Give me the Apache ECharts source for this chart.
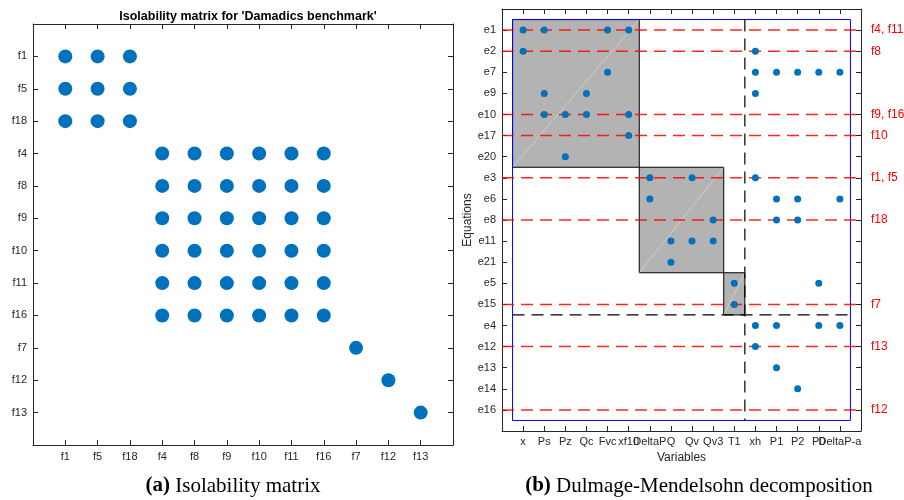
<!DOCTYPE html>
<html><head><meta charset="utf-8">
<script src="https://cdn.jsdelivr.net/npm/echarts@6/dist/echarts.min.js"></script>
<style>html,body{margin:0;padding:0;background:#fff}#c{width:904px;height:500px}</style>
</head><body><div id="c"></div>
<script>
// ---- data ----
const faults = ['f1','f5','f18','f4','f8','f9','f10','f11','f16','f7','f12','f13'];
const isoGroups = [['f1','f5','f18'],['f4','f8','f9','f10','f11','f16'],['f7'],['f12'],['f13']];
const variables = ['x','Ps','Pz','Qc','Fvc','xf10','DeltaP','Q','Qv','Qv3','T1','xh','P1','P2','P0','DeltaP-a'];
const equations = ['e1','e2','e7','e9','e10','e17','e20','e3','e6','e8','e11','e21','e5','e15','e4','e12','e13','e14','e16'];
const incidence = [
  ['x','Ps','Fvc','xf10'],
  ['x','xh'],
  ['Fvc','xh','P1','P2','P0','DeltaP-a'],
  ['Ps','Qc','xh'],
  ['Ps','Pz','Qc','xf10'],
  ['xf10'],
  ['Pz'],
  ['DeltaP','Qv','xh'],
  ['DeltaP','P1','P2','DeltaP-a'],
  ['Qv3','P1','P2'],
  ['Q','Qv','Qv3'],
  ['Q'],
  ['T1','P0'],
  ['T1'],
  ['xh','P1','P0','DeltaP-a'],
  ['xh'],
  ['P1'],
  ['P2'],
  []
];
const blockEqs = [['e1','e20'],['e3','e21'],['e5','e15']];
const blockVars = [['x','xf10'],['DeltaP','Qv3'],['T1','T1']];
const faultEqs = ['e1','e2','e10','e17','e3','e8','e15','e12','e16'];
const faultLabels = ['f4, f11','f8','f9, f16','f10','f1, f5','f18','f7','f13','f12'];

// ---- derived ----
const isoPoints = [];
isoGroups.forEach(g => g.forEach(a => g.forEach(b => isoPoints.push([faults.indexOf(b)+1, faults.indexOf(a)+1]))));
const dmPoints = [];
incidence.forEach((vs, i) => vs.forEach(v => dmPoints.push([variables.indexOf(v)+1, i+1])));
const blocks = blockEqs.map((be, k) => ({
  x0: variables.indexOf(blockVars[k][0]) + 0.5, x1: variables.indexOf(blockVars[k][1]) + 1.5,
  y0: equations.indexOf(be[0]) + 0.5, y1: equations.indexOf(be[1]) + 1.5
}));
const nV = variables.length, nE = equations.length, nF = faults.length;
const lastB = blocks[blocks.length-1];

const FG = '#262626';
const FONT = 'Liberation Sans';
function mkAxis(type, pos, max, names, showLabel, gridIndex, inverse) {
  return {
    type: 'value', gridIndex, position: pos, min: 0, max, interval: 1, inverse: !!inverse,
    axisLine: {show: true, onZero: false, lineStyle: {color: FG, width: 1}},
    axisTick: {show: true, inside: true, length: 5, lineStyle: {color: FG}},
    splitLine: {show: false},
    axisLabel: {show: showLabel, color: FG, fontSize: 11, fontFamily: FONT, margin: 6,
      formatter: v => names[v-1] || ''}
  };
}

const chart = echarts.init(document.getElementById('c'));
const xL = mkAxis('x','bottom',nF+1,faults,true,0);
const xLt = mkAxis('x','top',nF+1,faults,false,0);
const yL = mkAxis('y','left',nF+1,faults,true,0,true);
const yLr = mkAxis('y','right',nF+1,faults,false,0,true);
const xR = mkAxis('x','bottom',nV+1,variables,true,1);
xR.name = 'Variables'; xR.nameLocation = 'middle'; xR.nameGap = 17;
xR.nameTextStyle = {color: FG, fontSize: 12, fontFamily: FONT};
xR.axisLabel.margin = 5;
const xRt = mkAxis('x','top',nV+1,variables,false,1);
const yR = mkAxis('y','left',nE+1,equations,true,1,true);
yR.name = 'Equations'; yR.nameLocation = 'middle'; yR.nameGap = 28;
yR.nameTextStyle = {color: FG, fontSize: 12, fontFamily: FONT};
const yRr = mkAxis('y','right',nE+1,equations,false,1,true);

chart.setOption({
  animation: false,
  title: {text: "Isolability matrix for 'Damadics benchmark'", left: 243, top: 5, textAlign: 'center',
    textStyle: {fontSize: 12.5, fontWeight: 'bold', color: '#000', fontFamily: FONT}},
  grid: [
    {left: 33, top: 24, width: 420, height: 421},
    {left: 502, top: 9, width: 359, height: 422}
  ],
  xAxis: [xL, xLt, xR, xRt],
  yAxis: [yL, yLr, yR, yRr],
  series: [
    {type: 'scatter', xAxisIndex: 0, yAxisIndex: 0, data: isoPoints, symbolSize: 14,
      itemStyle: {color: '#0072BD', opacity: 1}, silent: true},
    {type: 'custom', xAxisIndex: 2, yAxisIndex: 2, data: [[0,0]], silent: true, z: 1,
      renderItem: function (params, api) {
        const ch = [];
        blocks.forEach(b => {
          const p0 = api.coord([b.x0, b.y0]), p1 = api.coord([b.x1, b.y1]);
          ch.push({type: 'rect', shape: {x: p0[0], y: p0[1], width: p1[0]-p0[0], height: p1[1]-p0[1]},
            style: {fill: '#B3B3B3', stroke: '#000', lineWidth: 1}});
          ch.push({type: 'line', shape: {x1: p0[0], y1: p1[1], x2: p1[0], y2: p0[1]},
            style: {stroke: 'rgba(255,255,255,0.55)', lineWidth: 0.6}});
        });
        const a = api.coord([0.5, 0.5]), c = api.coord([nV+0.5, nE+0.5]);
        ch.push({type: 'rect', shape: {x: a[0], y: a[1], width: c[0]-a[0], height: c[1]-a[1]},
          style: {fill: 'none', stroke: '#0000FF', lineWidth: 1}});
        const vx = api.coord([lastB.x1, 0.5]), vy = api.coord([lastB.x1, nE+0.5]);
        ch.push({type: 'line', shape: {x1: vx[0], y1: vx[1], x2: vy[0], y2: vy[1]},
          style: {stroke: '#000', lineWidth: 1.2, lineDash: [12, 7]}});
        const hx = api.coord([0.5, lastB.y1]), hy = api.coord([nV+0.5, lastB.y1]);
        ch.push({type: 'line', shape: {x1: hx[0], y1: hx[1], x2: hy[0], y2: hy[1]},
          style: {stroke: '#000', lineWidth: 1.2, lineDash: [12, 7]}});
        faultEqs.forEach((e, k) => {
          const r = equations.indexOf(e) + 1;
          const l0 = api.coord([0, r]), l1 = api.coord([nV+1, r]);
          ch.push({type: 'line', shape: {x1: l0[0], y1: l0[1], x2: l1[0], y2: l1[1]},
            style: {stroke: 'rgba(255,0,0,0.85)', lineWidth: 1.5, lineDash: [12, 7]}});
          ch.push({type: 'text', x: l1[0] + 10, y: l1[1],
            style: {text: faultLabels[k], fill: '#FF0000', fontSize: 12, fontFamily: FONT,
              verticalAlign: 'middle', align: 'left'}});
        });
        return {type: 'group', children: ch};
      }},
    {type: 'scatter', xAxisIndex: 2, yAxisIndex: 2, data: dmPoints, symbolSize: 7, z: 5,
      itemStyle: {color: '#0072BD', opacity: 1}, silent: true}
  ],
  graphic: [
    {type: 'text', x: 233, y: 486, style: {text: '{b|(a)} Isolability matrix', align: 'center', verticalAlign: 'middle',
      fill: '#000', font: '21px "Liberation Serif"',
      rich: {b: {fontWeight: 'bold', fontSize: 21, fontFamily: 'Liberation Serif', fill: '#000'}}}},
    {type: 'text', x: 699, y: 486, style: {text: '{b|(b)} Dulmage-Mendelsohn decomposition', align: 'center', verticalAlign: 'middle',
      fill: '#000', font: '21px "Liberation Serif"',
      rich: {b: {fontWeight: 'bold', fontSize: 21, fontFamily: 'Liberation Serif', fill: '#000'}}}}
  ]
});
</script></body></html>
